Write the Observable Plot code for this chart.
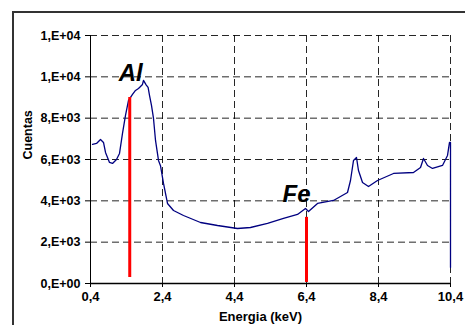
<!DOCTYPE html>
<html>
<head>
<meta charset="utf-8">
<script src="https://cdn.jsdelivr.net/npm/d3@7"></script>
<script src="https://cdn.jsdelivr.net/npm/@observablehq/plot@0.6"></script>
<style>
  html, body { margin: 0; padding: 0; background: #fff; overflow: hidden; }
  #wrap { position: relative; width: 465px; height: 325px; overflow: hidden; }
  #border { position: absolute; left: 12px; top: 11px; width: 480px; height: 340px; border: 2px solid #333; box-sizing: border-box; }
  #chart { position: absolute; left: 0; top: 0; }
</style>
</head>
<body>
<div id="wrap"><div id="border"></div><div id="chart"></div></div>
<script>
// Spectrum: energy (keV) and counts
const energy = [0.456, 0.567, 0.678, 0.761, 0.817, 0.928, 1.011, 1.122, 1.206, 1.289, 1.372, 1.456, 1.567, 1.65, 1.733, 1.789, 1.844, 1.872, 1.95, 2.0, 2.039, 2.094, 2.15, 2.206, 2.289, 2.344, 2.428, 2.539, 2.706, 2.983, 3.456, 3.928, 4.483, 4.844, 5.317, 5.761, 6.15, 6.372, 6.456, 6.706, 7.15, 7.539, 7.622, 7.706, 7.789, 7.844, 7.956, 8.122, 8.372, 8.817, 9.372, 9.567, 9.65, 9.761, 9.9, 10.178, 10.317, 10.372, 10.4, 10.4];
const counts = [6728, 6776, 6970, 6824, 6340, 5856, 5808, 6002, 6292, 7260, 8131, 8857, 9148, 9341, 9438, 9535, 9632, 9825, 9600, 9486, 9099, 8615, 7986, 6921, 5953, 5700, 4840, 3872, 3533, 3291, 2952, 2807, 2662, 2710, 2904, 3146, 3340, 3630, 3485, 3872, 4017, 4404, 4985, 5953, 6098, 5469, 4888, 4695, 4985, 5324, 5372, 5614, 6050, 5711, 5566, 5711, 6195, 6824, 6824, 775];

// Element marker lines
const elements = ["Al", "Fe"];
const elementEnergy = [1.49, 6.4];
const elementTop = [9000, 3200];
const elementBottom = [290, 50];

// Axis ticks
const xTicks = [0.4, 2.4, 4.4, 6.4, 8.4, 10.4];
const xTickLabels = ["0,4", "2,4", "4,4", "6,4", "8,4", "10,4"];
const yTicks = [0, 2000, 4000, 6000, 8000, 10000, 12000];
const yTickLabels = ["0,E+00", "2,E+03", "4,E+03", "6,E+03", "8,E+03", "1,E+04", "1,E+04"];

const spectrum = energy.map((e, i) => ({e, c: counts[i]}));
const markers = elements.map((name, i) => ({name, e: elementEnergy[i], top: elementTop[i], bottom: elementBottom[i]}));

const font = "'Liberation Sans', Arial, sans-serif";

const chart = Plot.plot({
  width: 465,
  height: 325,
  marginLeft: 90,
  marginRight: 15,
  marginTop: 35,
  marginBottom: 42,
  style: { fontFamily: font, background: "transparent", color: "#000" },
  x: { domain: [0.4, 10.4] },
  y: { domain: [0, 12000] },
  marks: [
    Plot.gridY(yTicks.filter(d => d > 0), { stroke: "#000", strokeOpacity: 0.85, strokeDasharray: "7,4", strokeWidth: 1 }),
    Plot.gridX(xTicks.filter(d => d > 0.4), { stroke: "#000", strokeOpacity: 0.85, strokeDasharray: "7,4", strokeWidth: 1 }),
    Plot.line(spectrum, { x: "e", y: "c", stroke: "#000080", strokeWidth: 1.3 }),
    Plot.ruleX(markers, { x: "e", y1: "bottom", y2: "top", stroke: "#ff0000", strokeWidth: 3 }),
    Plot.text(markers.filter(d => d.name === "Al"), { x: "e", y: "top", text: "name", lineAnchor: "bottom", dy: -17, dx: 1, fontSize: 24, fontWeight: "bold", fontStyle: "italic", fill: "#000" }),
    Plot.text(markers.filter(d => d.name === "Fe"), { x: "e", y: "top", text: "name", lineAnchor: "bottom", dy: -15, dx: -10, fontSize: 24, fontWeight: "bold", fontStyle: "italic", fill: "#000" }),
    Plot.ruleX([0.4], { stroke: "#000", strokeWidth: 1 }),
    Plot.ruleY([0], { stroke: "#000", strokeWidth: 1.5 }),
    Plot.axisX({ ticks: xTicks, tickFormat: d => xTickLabels[xTicks.indexOf(d)], tickSize: 4, tickPadding: 4, fontSize: 13, fontWeight: "bold", label: null, stroke: "#000" }),
    Plot.axisY({ ticks: yTicks, tickFormat: d => yTickLabels[yTicks.indexOf(d)], tickSize: 5, tickPadding: 5, fontSize: 12.5, fontWeight: "bold", label: null, stroke: "#000" }),
    Plot.text(["Cuentas"], { frameAnchor: "left", dx: -63, rotate: -90, fontSize: 12.5, fontWeight: "bold", fill: "#000" }),
    Plot.text(["Energia (keV)"], { frameAnchor: "bottom", dy: 37, dx: -10, fontSize: 13, fontWeight: "bold", fill: "#000" })
  ]
});
document.getElementById("chart").appendChild(chart);
</script>
</body>
</html>
